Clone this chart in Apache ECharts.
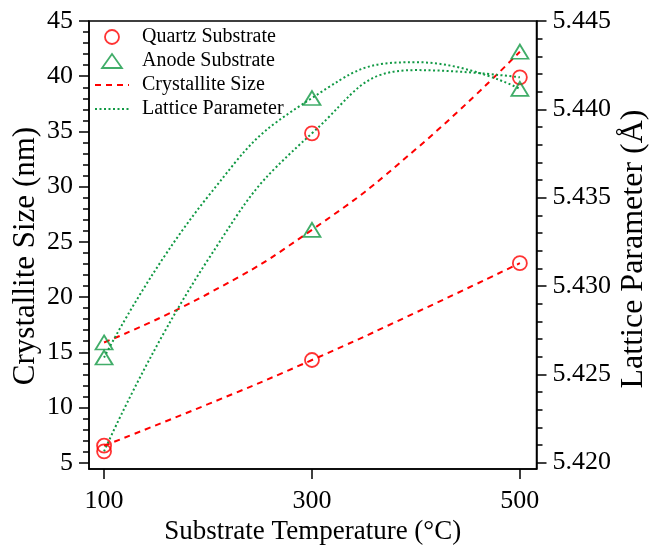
<!DOCTYPE html>
<html>
<head>
<meta charset="utf-8">
<script src="https://cdn.jsdelivr.net/npm/echarts@6/dist/echarts.min.js"></script>
<style>
html,body{margin:0;padding:0;background:#fff;}
#chart{width:650px;height:545px;}
</style>
</head>
<body>
<div id="chart"></div>
<script>
// ---- data ----
const temps = [100, 300, 500];
const quartzSize = [6.54, 14.3, 23.07];            // nm, left axis
const anodeSize = [15.89, 26.09, 42.22];           // nm, left axis
const quartzLattice = [5.42064, 5.43864, 5.44181]; // Å, right axis
const anodeLattice = [5.42595, 5.44064, 5.44116];  // Å, right axis
// fitted curves
const fitTemps = [100, 200, 300, 400, 500];
const quartzSizeFit = [6.54, 10.3, 14.3, 18.6, 23.07];
const anodeSizeFit = [15.89, 20.3, 26.09, 33.4, 42.22];
const quartzLatticeFit = [5.42064, 5.43149, 5.43864, 5.44222, 5.44181];
const anodeLatticeFit = [5.42595, 5.43507, 5.44064, 5.44267, 5.44116];
// tick labels
const xTicks = [100, 300, 500];
const leftTicks = [5, 10, 15, 20, 25, 30, 35, 40, 45];
const leftMinor = [5,6,7,8,9,10,11,12,13,14,15,16,17,18,19,20,21,22,23,24,25,26,27,28,29,30,31,32,33,34,35,36,37,38,39,40,41,42,43,44,45];
const rightTicks = [5.420, 5.425, 5.430, 5.435, 5.440, 5.445];
const rightMinor = [5.420,5.421,5.422,5.423,5.424,5.425,5.426,5.427,5.428,5.429,5.430,5.431,5.432,5.433,5.434,5.435,5.436,5.437,5.438,5.439,5.440,5.441,5.442,5.443,5.444,5.445];

const RED = '#ff0000';
const GREEN = '#119944';
const FONT = '"Liberation Serif", "Times New Roman", serif';
const pairs = (xs, ys) => xs.map((x, i) => [x, ys[i]]);

const LMIN = 4.43, LMAX = 45, RMIN = 5.41964, RMAX = 5.445;

const axisLineStyle = { color: '#000', width: 1.5 };
const labelStyle = { fontFamily: FONT, fontSize: 26, color: '#000' };

const chart = echarts.init(document.getElementById('chart'), null, { renderer: 'canvas' });

const circleStyle = { color: 'rgba(0,0,0,0)', borderColor: RED, borderWidth: 1.8 };
const triStyle = { color: 'rgba(0,0,0,0)', borderColor: GREEN, borderWidth: 1.8 };
const hiddenSymbol = { color: 'rgba(0,0,0,0)', borderColor: 'rgba(0,0,0,0)', borderWidth: 0 };

chart.setOption({
  animation: false,
  backgroundColor: '#fff',
  grid: { left: 89, right: 113.5, top: 21, bottom: 76, containLabel: false, outerBoundsMode: 'none',
          show: true, borderColor: '#000', borderWidth: 1.5, backgroundColor: 'transparent' },
  legend: {
    orient: 'vertical', left: 89, top: 22, itemGap: 4, itemWidth: 34, itemHeight: 14,
    data: [
      { name: 'Quartz Substrate' },
      { name: 'Anode Substrate', icon: 'path://M0,12L8.5,0L17,12Z' },
      { name: 'Crystallite Size', itemStyle: hiddenSymbol },
      { name: 'Lattice Parameter', itemStyle: hiddenSymbol }
    ],
    textStyle: { fontFamily: FONT, fontSize: 20, color: '#000', padding: [0, 0, 0, 8] },
    itemStyle: { borderWidth: 1.8 }
  },
  xAxis: {
    type: 'value', min: 85.5, max: 516,
    axisLine: { show: true, lineStyle: axisLineStyle },
    axisTick: { show: true, inside: false, length: 10, lineStyle: axisLineStyle, customValues: xTicks },
    axisLabel: Object.assign({ margin: 19, customValues: xTicks }, labelStyle),
    splitLine: { show: false },
    name: 'Substrate Temperature (°C)', nameLocation: 'middle', nameGap: 46,
    nameTextStyle: { fontFamily: FONT, fontSize: 27, color: '#000' }
  },
  yAxis: [
    {
      type: 'value', position: 'left', min: LMIN, max: LMAX,
      axisLine: { show: true, lineStyle: axisLineStyle },
      axisTick: { show: true, inside: false, length: 10, lineStyle: axisLineStyle, customValues: leftTicks },
      axisLabel: Object.assign({ margin: 16, customValues: leftTicks }, labelStyle),
      splitLine: { show: false }
    },
    {
      type: 'value', position: 'right', min: RMIN, max: RMAX,
      axisLine: { show: true, lineStyle: axisLineStyle },
      axisTick: { show: true, inside: false, length: 10, lineStyle: axisLineStyle, customValues: rightTicks },
      axisLabel: Object.assign({ margin: 16, customValues: rightTicks, formatter: v => v.toFixed(3) }, labelStyle),
      splitLine: { show: false }
    },
    {
      type: 'value', position: 'left', min: LMIN, max: LMAX,
      axisLine: { show: false },
      axisTick: { show: true, inside: false, length: 6, lineStyle: axisLineStyle, customValues: leftMinor },
      axisLabel: { show: false },
      splitLine: { show: false }
    },
    {
      type: 'value', position: 'right', min: RMIN, max: RMAX,
      axisLine: { show: false },
      axisTick: { show: true, inside: false, length: 6, lineStyle: axisLineStyle, customValues: rightMinor },
      axisLabel: { show: false },
      splitLine: { show: false }
    }
  ],
  graphic: [
    { type: 'text', x: 26, y: 256, rotation: Math.PI / 2,
      style: { text: 'Crystallite Size (nm)', font: '31px ' + FONT, fill: '#000', align: 'center', verticalAlign: 'middle' } },
    { type: 'text', x: 634, y: 249, rotation: Math.PI / 2,
      style: { text: 'Lattice Parameter (Å)', font: '32px ' + FONT, fill: '#000', align: 'center', verticalAlign: 'middle' } }
  ],
  series: [
    { name: 'Crystallite Size', type: 'line', yAxisIndex: 0, data: pairs(fitTemps, quartzSizeFit), smooth: true, symbol: 'none',
      lineStyle: { color: RED, width: 2, type: [6, 5] }, itemStyle: { color: RED }, z: 2 },
    { name: 'Crystallite Size', type: 'line', yAxisIndex: 0, data: pairs(fitTemps, anodeSizeFit), smooth: true, symbol: 'none',
      lineStyle: { color: RED, width: 2, type: [6, 5] }, itemStyle: { color: RED }, z: 2 },
    { name: 'Lattice Parameter', type: 'line', yAxisIndex: 1, data: pairs(fitTemps, quartzLatticeFit), smooth: true, symbol: 'none',
      lineStyle: { color: GREEN, width: 2, type: [2, 2.5] }, itemStyle: { color: GREEN }, z: 2 },
    { name: 'Lattice Parameter', type: 'line', yAxisIndex: 1, data: pairs(fitTemps, anodeLatticeFit), smooth: true, symbol: 'none',
      lineStyle: { color: GREEN, width: 2, type: [2, 2.5] }, itemStyle: { color: GREEN }, z: 2 },
    { name: 'Quartz Substrate', type: 'scatter', yAxisIndex: 0, data: pairs(temps, quartzSize), symbol: 'circle', symbolSize: 14, itemStyle: circleStyle, z: 3 },
    { name: 'Quartz Substrate', type: 'scatter', yAxisIndex: 1, data: pairs(temps, quartzLattice), symbol: 'circle', symbolSize: 14, itemStyle: circleStyle, z: 3 },
    { name: 'Anode Substrate', type: 'scatter', yAxisIndex: 0, data: pairs(temps, anodeSize), symbol: 'triangle', symbolSize: [17, 14], itemStyle: triStyle, z: 3 },
    { name: 'Anode Substrate', type: 'scatter', yAxisIndex: 1, data: pairs(temps, anodeLattice), symbol: 'triangle', symbolSize: [17, 14], itemStyle: triStyle, z: 3 }
  ]
});
</script>
</body>
</html>
